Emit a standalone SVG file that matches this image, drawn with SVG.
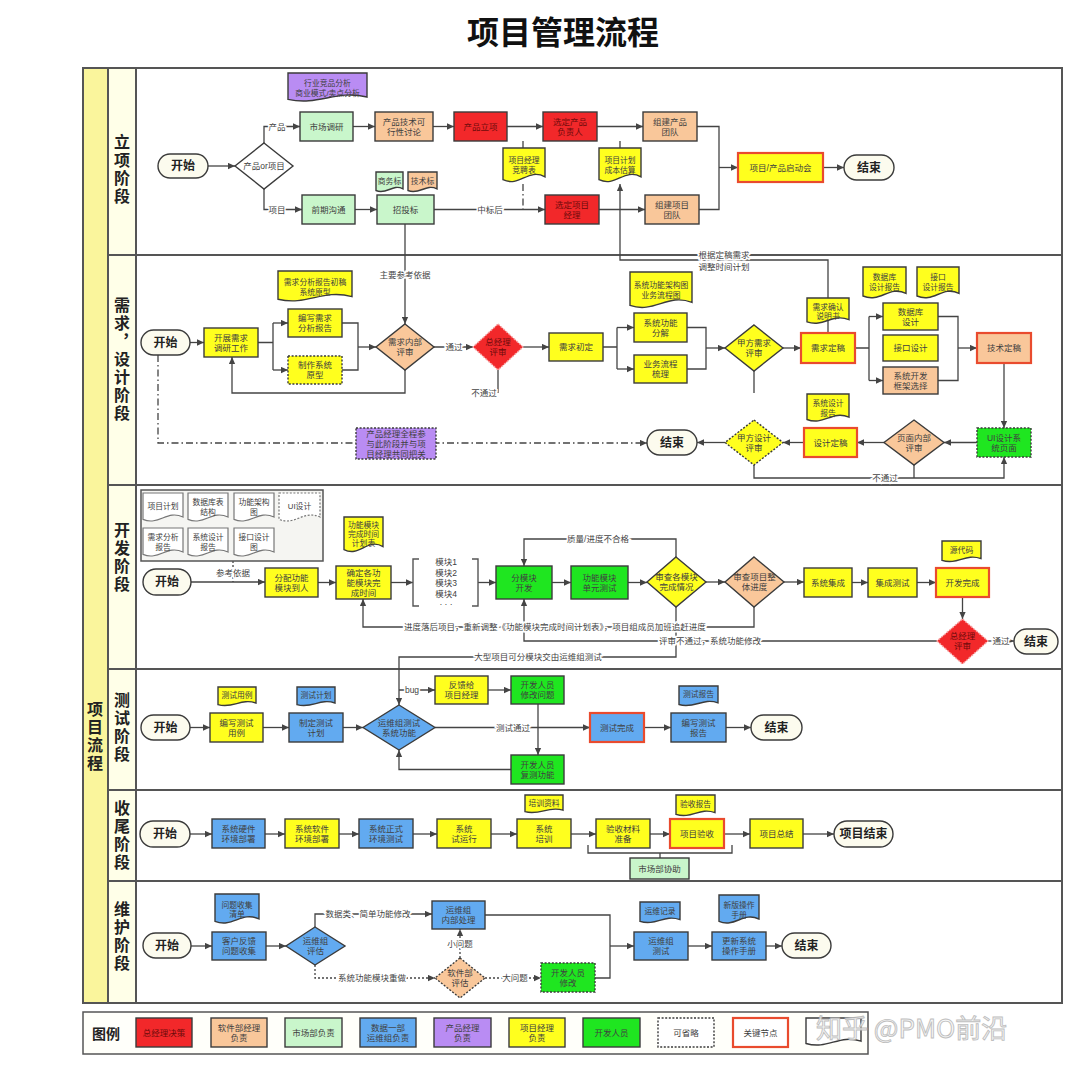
<svg xmlns="http://www.w3.org/2000/svg" width="1080" height="1069" viewBox="0 0 1080 1069">
<style>
.n{stroke:#3b3b3b;stroke-width:1.4}
.red{fill:#F2282A}.org{fill:#F9C79A}.lg{fill:#C9F6CB}.blu{fill:#62AAF0}.pur{fill:#B98CF3}.yel{fill:#FFFF1E}.grn{fill:#1FE620}.ter{fill:#FCFBEE}.wht{fill:#fff}
.key{stroke:#E94B2E;stroke-width:2.2}
.dt{stroke-dasharray:2 1.6}
.rd{stroke:#f7a0a0;stroke-dasharray:2 1.6}
.t{font-family:"Liberation Sans","Noto Sans CJK SC",sans-serif;font-size:8.5px;fill:#404040;text-anchor:middle;dominant-baseline:central}
.d{font-size:7.8px}
.tr{fill:#6e0b0b}
.tt{font-size:12px;font-weight:bold;fill:#222}
.lane{font-family:"Noto Sans CJK SC",sans-serif;font-size:16px;font-weight:bold;fill:#222;text-anchor:middle;writing-mode:vertical-rl;letter-spacing:2px}
.c{fill:none;stroke:#444;stroke-width:1.3}
.dd{stroke-dasharray:7 3 1.5 3}
.ds{stroke-dasharray:2 2}
.l{font-family:"Liberation Sans","Noto Sans CJK SC",sans-serif;font-size:8.5px;fill:#444;text-anchor:middle;dominant-baseline:central;stroke:#fff;stroke-width:3;paint-order:stroke}
.frame{fill:none;stroke:#555;stroke-width:2}
</style>
<defs>
<marker id="ah" viewBox="0 0 10 10" refX="10" refY="5" markerWidth="8" markerHeight="7" markerUnits="userSpaceOnUse" orient="auto"><path d="M0,0.5 L10,5 L0,9.5 z" fill="#444"/></marker>
</defs>
<rect width="1080" height="1069" fill="#fff"/>
<text x="563" y="30" font-family="Noto Sans CJK SC,sans-serif" font-size="32" font-weight="bold" fill="#111" text-anchor="middle" dominant-baseline="central">项目管理流程</text>

<g id="frame">
<rect x="83" y="68" width="979" height="935" fill="#fff" stroke="#555" stroke-width="2"/>
<rect x="83" y="68" width="25" height="935" fill="#FAF59C" stroke="#555" stroke-width="2"/>
<rect x="108" y="68" width="28" height="935" fill="#FFFFE8" stroke="#555" stroke-width="2"/>
<path class="frame" d="M108 255H1062M108 485H1062M108 669H1062M108 790H1062M108 881H1062"/>
<text class="lane" x="95" y="737">项目流程</text>
<text class="lane" x="122" y="170">立项阶段</text>
<text class="lane" x="122" y="360">需求，设计阶段</text>
<text class="lane" x="122" y="558">开发阶段</text>
<text class="lane" x="122" y="728">测试阶段</text>
<text class="lane" x="122" y="836">收尾阶段</text>
<text class="lane" x="122" y="937">维护阶段</text>
</g>

<g id="connectors" marker-end="url(#ah)">
<path class="c" d="M208 166H235"/>
<path class="c" d="M264 143V126.5H300"/>
<path class="c" d="M264 189V209.5H302"/>
<path class="c" d="M353 126.5H375"/>
<path class="c" d="M433 126.5H454"/>
<path class="c" d="M507 126.5H543"/>
<path class="c" d="M597 126.5H643"/>
<path class="c" d="M355 209.5H377"/>
<path class="c" d="M434 209.5H545"/>
<path class="c" d="M599 209.5H645"/>
<path class="c" d="M697 126.5H719V209.5H699" marker-end="none"/>
<path class="c" d="M719 167.5H738"/>
<path class="c" d="M823 167.5H844"/>
<path class="c dd" d="M523 141V148M523 184V209.5M620 141V148" marker-end="none"/>
<path class="c" d="M405 224V324"/>
<path class="c" d="M828 333V260H620V184"/>
<path class="c" d="M190 342.5H204"/>
<path class="c" d="M258 342.5H273M273 323V370" marker-end="none"/>
<path class="c" d="M273 323H288"/>
<path class="c" d="M273 370H288"/>
<path class="c" d="M342 323H358V370H342" marker-end="none"/>
<path class="c" d="M358 347H376"/>
<path class="c" d="M434 347H473"/>
<path class="c" d="M523 347H549"/>
<path class="c" d="M603 347H617M617 327.5V369" marker-end="none"/>
<path class="c" d="M617 327.5H634"/>
<path class="c" d="M617 369H634"/>
<path class="c" d="M687 327.5H706V369H687" marker-end="none"/>
<path class="c" d="M706 348H725"/>
<path class="c" d="M783 348H801"/>
<path class="c" d="M855 348H869M869 316.5V380.5" marker-end="none"/>
<path class="c" d="M869 316.5H883"/>
<path class="c" d="M869 380.5H883"/>
<path class="c" d="M938 316.5H958V380.5H938" marker-end="none"/>
<path class="c" d="M958 348H977"/>
<path class="c" d="M1004 363V428"/>
<path class="c" d="M977 442.5H944"/>
<path class="c" d="M884 442.5H857"/>
<path class="c" d="M804 442.5H783"/>
<path class="c" d="M725 442.5H697"/>
<path class="c" d="M754 465V478H1004V457"/>
<path class="c" d="M914 465V478" marker-end="none"/>
<path class="c" d="M405 370V393H232V357"/>
<path class="c" d="M498 370V393M754 371V393" marker-end="none"/>
<path class="c dd" d="M158 355V443H647"/>
<path class="c" d="M191 582H265"/>
<path class="c ds" d="M233 561V582" marker-end="none"/>
<path class="c" d="M318 582.5H336"/>
<path class="c" d="M391 582.5H413"/>
<path class="c" d="M478 582.5H496"/>
<path class="c" d="M552 582.5H571"/>
<path class="c" d="M628 582.5H647"/>
<path class="c" d="M706 582H725"/>
<path class="c" d="M784 582H804"/>
<path class="c" d="M852 582.5H868"/>
<path class="c" d="M917 582.5H936"/>
<path class="c" d="M962.5 597V619"/>
<path class="c" d="M988 641H1014"/>
<path class="c" d="M676 557V539H524V566"/>
<path class="c" d="M754 607V627H363V599"/>
<path class="c" d="M937 641H524V599"/>
<path class="c" d="M676 607V657H399V705"/>
<path class="c" d="M190 727.5H210"/>
<path class="c" d="M263 727.5H289"/>
<path class="c" d="M343 727.5H363"/>
<path class="c" d="M399 690H435"/>
<path class="c" d="M488 690H511"/>
<path class="c" d="M538 704V755"/>
<path class="c" d="M511 769.5H399V750"/>
<path class="c" d="M435 727.5H590"/>
<path class="c" d="M644 727.5H671"/>
<path class="c" d="M726 727.5H751"/>
<path class="c" d="M190 834H212"/>
<path class="c" d="M265 834H285"/>
<path class="c" d="M339 834H359"/>
<path class="c" d="M413 834H437"/>
<path class="c" d="M491 834H517"/>
<path class="c" d="M571 834H596"/>
<path class="c" d="M650 834H670"/>
<path class="c" d="M724 834H750"/>
<path class="c" d="M803 834H834"/>
<path class="c" d="M588 845V853H732V845M660 853V858" marker-end="none"/>
<path class="c" d="M191 946H212"/>
<path class="c" d="M266 946H286"/>
<path class="c" d="M315 927V914H432"/>
<path class="c ds" d="M315 965V978H435"/>
<path class="c ds" d="M460 958V929"/>
<path class="c ds" d="M485 978H541"/>
<path class="c" d="M485 915H610V978H595" marker-end="none"/>
<path class="c" d="M610 946H634"/>
<path class="c" d="M688 946H712"/>
<path class="c" d="M766 946H782"/>
</g>

<g id="labels">
<text class="l" x="277" y="126.5">产品</text>
<text class="l" x="277" y="209.5">项目</text>
<text class="l" x="490" y="209.5">中标后</text>
<text class="l" x="405" y="275">主要参考依据</text>
<text class="l" x="724" y="255">根据定稿需求</text>
<text class="l" x="724" y="267">调整时间计划</text>
<text class="l" x="454" y="347">通过</text>
<text class="l" x="484" y="393">不通过</text>
<text class="l" x="885" y="478">不通过</text>
<text class="l" x="233" y="573">参考依据</text>
<text class="l" x="598" y="539">质量/进度不合格</text>
<text class="l" x="555" y="627">进度落后项目，重新调整《功能模块完成时间计划表》，项目组成员加班追赶进度</text>
<text class="l" x="710" y="641">评审不通过，系统功能修改</text>
<text class="l" x="538" y="657">大型项目可分模块交由运维组测试</text>
<text class="l" x="1001" y="641">通过</text>
<text class="l" x="412" y="690">bug</text>
<text class="l" x="513" y="727.5">测试通过</text>
<text class="l" x="368" y="914">数据类、简单功能修改</text>
<text class="l" x="372" y="978">系统功能模块重做</text>
<text class="l" x="460" y="944">小问题</text>
<text class="l" x="515" y="978">大问题</text>
</g>

<g id="l1-start"><rect class="n ter" x="158" y="154" width="50" height="24" rx="12"/><text class="t tt" x="183" y="166">开始</text></g>
<g id="l1-choice"><polygon class="n wht" points="264,143 293,166 264,189 235,166"/><text class="t" x="264" y="166">产品or项目</text></g>
<g id="l1-doc-market"><path class="n pur" d="M288 73H367V97C335.4 89.5 319.6 106 288 99.4Z"/><text class="t d"><tspan x="327.5" y="83">行业竞品分析</tspan><tspan x="327.5" y="92.5">商业模式/卖点分析</tspan></text></g>
<g id="l1-market"><rect class="n lg" x="300" y="112" width="53" height="29"/><text class="t" x="326.5" y="126.5">市场调研</text></g>
<g id="l1-feas"><rect class="n org" x="375" y="112" width="58" height="29"/><text class="t"><tspan x="404" y="121.5">产品技术可</tspan><tspan x="404" y="131.5">行性讨论</tspan></text></g>
<g id="l1-approve"><rect class="n red" x="454" y="112" width="53" height="29"/><text class="t tr" x="480.5" y="126.5">产品立项</text></g>
<g id="l1-pm"><rect class="n red" x="543" y="112" width="54" height="29"/><text class="t tr"><tspan x="570" y="121.5">选定产品</tspan><tspan x="570" y="131.5">负责人</tspan></text></g>
<g id="l1-pteam"><rect class="n org" x="643" y="112" width="54" height="29"/><text class="t"><tspan x="670" y="121.5">组建产品</tspan><tspan x="670" y="131.5">团队</tspan></text></g>
<g id="l1-doc-pmc"><path class="n yel" d="M503 148H545V176.8C528.2 167.8 519.8 187.6 503 179.7Z"/><text class="t d"><tspan x="524" y="160">项目经理</tspan><tspan x="524" y="170">竞聘表</tspan></text></g>
<g id="l1-doc-plan"><path class="n yel" d="M599 148H641V176.8C624.2 167.8 615.8 187.6 599 179.7Z"/><text class="t d"><tspan x="620" y="160">项目计划</tspan><tspan x="620" y="170">成本估算</tspan></text></g>
<g id="l1-pre"><rect class="n lg" x="302" y="195" width="53" height="29"/><text class="t" x="328.5" y="209.5">前期沟通</text></g>
<g id="l1-doc-biz"><path class="n lg" d="M376 172H403V188.8C392.2 183.6 386.8 195.1 376 190.5Z"/><text class="t d" x="389.5" y="181">商务标</text></g>
<g id="l1-doc-tech"><path class="n org" d="M408 172H437V188.8C425.4 183.6 419.6 195.1 408 190.5Z"/><text class="t d" x="422.5" y="181">技术标</text></g>
<g id="l1-bid"><rect class="n lg" x="377" y="195" width="57" height="29"/><text class="t" x="405.5" y="209.5">招投标</text></g>
<g id="l1-prjm"><rect class="n red" x="545" y="195" width="54" height="29"/><text class="t tr"><tspan x="572" y="204.5">选定项目</tspan><tspan x="572" y="214.5">经理</tspan></text></g>
<g id="l1-jteam"><rect class="n org" x="645" y="195" width="54" height="29"/><text class="t"><tspan x="672" y="204.5">组建项目</tspan><tspan x="672" y="214.5">团队</tspan></text></g>
<g id="l1-kickoff"><rect class="yel key" x="738" y="153" width="85" height="29"/><text class="t" x="780.5" y="167.5">项目/产品启动会</text></g>
<g id="l1-end"><rect class="n ter" x="844" y="155" width="50" height="25" rx="12.5"/><text class="t tt" x="869" y="167.5">结束</text></g>

<g id="l2-start"><rect class="n ter" x="141" y="330" width="49" height="25" rx="12.5"/><text class="t tt" x="165.5" y="342.5">开始</text></g>
<g id="l2-research"><rect class="n yel" x="204" y="328" width="54" height="29"/><text class="t"><tspan x="231" y="337.5">开展需求</tspan><tspan x="231" y="347.5">调研工作</tspan></text></g>
<g id="l2-doc-req"><path class="n yel" d="M278 271H352V296.6C322.4 288.6 307.6 306.2 278 299.2Z"/><text class="t d"><tspan x="315" y="282">需求分析报告初稿</tspan><tspan x="315" y="292">系统原型</tspan></text></g>
<g id="l2-write"><rect class="n yel" x="288" y="309" width="54" height="28"/><text class="t"><tspan x="315" y="318">编写需求</tspan><tspan x="315" y="328">分析报告</tspan></text></g>
<g id="l2-proto"><rect class="n yel dt" x="288" y="356" width="54" height="28"/><text class="t"><tspan x="315" y="365">制作系统</tspan><tspan x="315" y="375">原型</tspan></text></g>
<g id="l2-inrev"><polygon class="n org" points="405,324 434,347 405,370 376,347"/><text class="t"><tspan x="405" y="342">需求内部</tspan><tspan x="405" y="352">评审</tspan></text></g>
<g id="l2-gmrev"><polygon class="red rd" stroke-width="1.4" points="498,324 523,347 498,370 473,347"/><text class="t tr"><tspan x="498" y="342">总经理</tspan><tspan x="498" y="352">评审</tspan></text></g>
<g id="l2-init"><rect class="n yel" x="549" y="333" width="54" height="28"/><text class="t" x="576" y="347">需求初定</text></g>
<g id="l2-doc-arch"><path class="n yel" d="M630 272H692V302.4C667.2 292.9 654.8 313.8 630 305.4Z"/><text class="t d"><tspan x="661" y="284.5">系统功能架构图</tspan><tspan x="661" y="294.5">业务流程图</tspan></text></g>
<g id="l2-decomp"><rect class="n yel" x="634" y="313" width="53" height="29"/><text class="t"><tspan x="660.5" y="322.5">系统功能</tspan><tspan x="660.5" y="332.5">分解</tspan></text></g>
<g id="l2-bizflow"><rect class="n yel" x="634" y="355" width="53" height="28"/><text class="t"><tspan x="660.5" y="364">业务流程</tspan><tspan x="660.5" y="374">梳理</tspan></text></g>
<g id="l2-clientrev"><polygon class="n yel" points="754,325 783,348 754,371 725,348"/><text class="t"><tspan x="754" y="343">甲方需求</tspan><tspan x="754" y="353">评审</tspan></text></g>
<g id="l2-doc-confirm"><path class="n yel" d="M807 298H849V319.6C832.2 312.9 823.8 327.7 807 321.8Z"/><text class="t d"><tspan x="828" y="306.5">需求确认</tspan><tspan x="828" y="316">说明书</tspan></text></g>
<g id="l2-final"><rect class="yel key" x="801" y="333" width="54" height="30"/><text class="t" x="828" y="348">需求定稿</text></g>
<g id="l2-doc-db"><path class="n yel" d="M863 267H906V293.4C888.8 285.2 880.2 303.3 863 296Z"/><text class="t d"><tspan x="884.5" y="277">数据库</tspan><tspan x="884.5" y="287">设计报告</tspan></text></g>
<g id="l2-doc-if"><path class="n yel" d="M917 267H959V293.4C942.2 285.2 933.8 303.3 917 296Z"/><text class="t d"><tspan x="938" y="277">接口</tspan><tspan x="938" y="287">设计报告</tspan></text></g>
<g id="l2-db"><rect class="n yel" x="883" y="303" width="55" height="27"/><text class="t"><tspan x="910.5" y="311.5">数据库</tspan><tspan x="910.5" y="321.5">设计</tspan></text></g>
<g id="l2-if"><rect class="n yel" x="883" y="335" width="55" height="26"/><text class="t" x="910.5" y="348">接口设计</text></g>
<g id="l2-frame"><rect class="n org" x="883" y="367" width="55" height="27"/><text class="t"><tspan x="910.5" y="375.5">系统开发</tspan><tspan x="910.5" y="385.5">框架选择</tspan></text></g>
<g id="l2-tech"><rect class="org key" x="977" y="333" width="54" height="30"/><text class="t" x="1004" y="348">技术定稿</text></g>
<g id="l2-ui"><rect class="n grn dt" x="977" y="428" width="54" height="29"/><text class="t"><tspan x="1004" y="437.5">UI设计系</tspan><tspan x="1004" y="447.5">统页面</tspan></text></g>
<g id="l2-pagerev"><polygon class="n org" points="914,420 944,442.5 914,465 884,442.5"/><text class="t"><tspan x="914" y="437.5">页面内部</tspan><tspan x="914" y="447.5">评审</tspan></text></g>
<g id="l2-doc-sd"><path class="n yel" d="M807 394H849V417.2C832.2 410 823.8 425.9 807 419.5Z"/><text class="t d"><tspan x="828" y="403">系统设计</tspan><tspan x="828" y="412.5">报告</tspan></text></g>
<g id="l2-design"><rect class="yel key" x="804" y="428" width="53" height="29"/><text class="t" x="830.5" y="442.5">设计定稿</text></g>
<g id="l2-clientdes"><polygon class="n yel dt" points="754,420 783,442.5 754,465 725,442.5"/><text class="t"><tspan x="754" y="437.5">甲方设计</tspan><tspan x="754" y="447.5">评审</tspan></text></g>
<g id="l2-end"><rect class="n ter" x="647" y="430" width="50" height="25" rx="12.5"/><text class="t tt" x="672" y="442.5">结束</text></g>
<g id="l2-pmnote"><rect class="n pur dt" x="356" y="428" width="80" height="31"/><text class="t"><tspan x="396" y="433.5">产品经理全程参</tspan><tspan x="396" y="443.5">与此阶段并与项</tspan><tspan x="396" y="453.5">目经理共同把关</tspan></text></g>

<g id="l3-refs">
<rect x="141" y="490" width="182" height="71" fill="#F5F5F2" stroke="#555" stroke-width="1.5"/>
<path class="wht" stroke="#777" stroke-width="1.2" d="M143 493H183V517C167 509.5 159 526 143 519.4Z"/><text class="t d" x="163" y="506">项目计划</text>
<path class="wht" stroke="#777" stroke-width="1.2" d="M188 493H228V517C212 509.5 204 526 188 519.4Z"/><text class="t d"><tspan x="208" y="502">数据库表</tspan><tspan x="208" y="511.5">结构</tspan></text>
<path class="wht" stroke="#777" stroke-width="1.2" d="M234 493H274V517C258 509.5 250 526 234 519.4Z"/><text class="t d"><tspan x="254" y="502">功能架构</tspan><tspan x="254" y="511.5">图</tspan></text>
<path class="wht dt" stroke="#777" stroke-width="1.2" d="M279 493H320V517C303.6 509.5 295.4 526 279 519.4Z"/><text class="t d" x="299.5" y="506">UI设计</text>
<path class="wht" stroke="#777" stroke-width="1.2" d="M143 528H183V552C167 544.5 159 561 143 554.4Z"/><text class="t d"><tspan x="163" y="537">需求分析</tspan><tspan x="163" y="546.5">报告</tspan></text>
<path class="wht" stroke="#777" stroke-width="1.2" d="M188 528H228V552C212 544.5 204 561 188 554.4Z"/><text class="t d"><tspan x="208" y="537">系统设计</tspan><tspan x="208" y="546.5">报告</tspan></text>
<path class="wht" stroke="#777" stroke-width="1.2" d="M234 528H274V552C258 544.5 250 561 234 554.4Z"/><text class="t d"><tspan x="254" y="537">接口设计</tspan><tspan x="254" y="546.5">图</tspan></text>
</g>
<g id="l3-start"><rect class="n ter" x="143" y="569" width="48" height="26" rx="13"/><text class="t tt" x="167" y="582">开始</text></g>
<g id="l3-assign"><rect class="n yel" x="265" y="568" width="53" height="29"/><text class="t"><tspan x="291.5" y="577.5">分配功能</tspan><tspan x="291.5" y="587.5">模块到人</tspan></text></g>
<g id="l3-doc-sched"><path class="n yel" d="M344 517H383V546.6C367.4 537.4 359.6 557.7 344 549.6Z"/><text class="t d"><tspan x="363.5" y="524.5">功能模块</tspan><tspan x="363.5" y="533.5">完成时间</tspan><tspan x="363.5" y="542.5">计划表</tspan></text></g>
<g id="l3-time"><rect class="n yel" x="336" y="566" width="55" height="33"/><text class="t"><tspan x="363.5" y="572.5">确定各功</tspan><tspan x="363.5" y="582.5">能模块完</tspan><tspan x="363.5" y="592.5">成时间</tspan></text></g>
<g id="l3-modules"><path d="M419 559H413V606H419M472 559H478V606H472" fill="none" stroke="#555" stroke-width="1.4"/><text class="t"><tspan x="446" y="562">模块1</tspan><tspan x="446" y="572.5">模块2</tspan><tspan x="446" y="583">模块3</tspan><tspan x="446" y="593.5">模块4</tspan><tspan x="446" y="604">·  ·  ·</tspan></text></g>
<g id="l3-dev"><rect class="n grn" x="496" y="566" width="56" height="33"/><text class="t"><tspan x="524" y="577.5">分模块</tspan><tspan x="524" y="587.5">开发</tspan></text></g>
<g id="l3-unit"><rect class="n grn" x="571" y="566" width="57" height="33"/><text class="t"><tspan x="599.5" y="577.5">功能模块</tspan><tspan x="599.5" y="587.5">单元测试</tspan></text></g>
<g id="l3-check"><polygon class="n yel" points="676,557 706,582 676,607 647,582"/><text class="t"><tspan x="676.5" y="577">审查各模块</tspan><tspan x="676.5" y="587">完成情况</tspan></text></g>
<g id="l3-progress"><polygon class="n org" points="754,557 784,582 754,607 725,582"/><text class="t"><tspan x="754.5" y="577">审查项目整</tspan><tspan x="754.5" y="587">体进度</tspan></text></g>
<g id="l3-integ"><rect class="n yel" x="804" y="568" width="48" height="29"/><text class="t" x="828" y="582.5">系统集成</text></g>
<g id="l3-itest"><rect class="n yel" x="868" y="568" width="49" height="29"/><text class="t" x="892.5" y="582.5">集成测试</text></g>
<g id="l3-doc-src"><path class="n yel" d="M942 541H981V558.6C965.4 553.1 957.6 565.2 942 560.4Z"/><text class="t d" x="961.5" y="550.5">源代码</text></g>
<g id="l3-done"><rect class="yel key" x="936" y="568" width="53" height="29"/><text class="t" x="962.5" y="582.5">开发完成</text></g>
<g id="l3-gmrev"><polygon class="red rd" stroke-width="1.4" points="962.5,619 988,641 962.5,664 937,641"/><text class="t tr"><tspan x="962.5" y="636">总经理</tspan><tspan x="962.5" y="646">评审</tspan></text></g>
<g id="l3-end"><rect class="n ter" x="1014" y="629" width="44" height="25" rx="12.5"/><text class="t tt" x="1036" y="641.5">结束</text></g>

<g id="l4-start"><rect class="n ter" x="141" y="715" width="49" height="25" rx="12.5"/><text class="t tt" x="165.5" y="727.5">开始</text></g>
<g id="l4-doc-case"><path class="n yel" d="M218 687H256V703C240.8 698 233.2 709 218 704.6Z"/><text class="t d" x="237" y="695">测试用例</text></g>
<g id="l4-case"><rect class="n yel" x="210" y="713" width="53" height="29"/><text class="t"><tspan x="236.5" y="722.5">编写测试</tspan><tspan x="236.5" y="732.5">用例</tspan></text></g>
<g id="l4-doc-plan"><path class="n blu" d="M297 687H335V703C319.8 698 312.2 709 297 704.6Z"/><text class="t d" x="316" y="695">测试计划</text></g>
<g id="l4-plan"><rect class="n blu" x="289" y="713" width="54" height="29"/><text class="t"><tspan x="316" y="722.5">制定测试</tspan><tspan x="316" y="732.5">计划</tspan></text></g>
<g id="l4-systest"><polygon class="n blu" points="399,705 435,727.5 399,750 363,727.5"/><text class="t"><tspan x="399" y="722.5">运维组测试</tspan><tspan x="399" y="732.5">系统功能</tspan></text></g>
<g id="l4-feedback"><rect class="n yel" x="435" y="676" width="53" height="28"/><text class="t"><tspan x="461.5" y="685">反馈给</tspan><tspan x="461.5" y="695">项目经理</tspan></text></g>
<g id="l4-fix"><rect class="n grn" x="511" y="676" width="53" height="28"/><text class="t"><tspan x="537.5" y="685">开发人员</tspan><tspan x="537.5" y="695">修改问题</tspan></text></g>
<g id="l4-retest"><rect class="n grn" x="511" y="755" width="53" height="29"/><text class="t"><tspan x="537.5" y="764.5">开发人员</tspan><tspan x="537.5" y="774.5">复测功能</tspan></text></g>
<g id="l4-done"><rect class="blu key" x="590" y="713" width="54" height="29"/><text class="t" x="617" y="727.5">测试完成</text></g>
<g id="l4-doc-report"><path class="n blu" d="M679 686H718V702.8C702.4 697.6 694.6 709.1 679 704.5Z"/><text class="t d" x="698.5" y="694.5">测试报告</text></g>
<g id="l4-report"><rect class="n blu" x="671" y="713" width="55" height="29"/><text class="t"><tspan x="698.5" y="722.5">编写测试</tspan><tspan x="698.5" y="732.5">报告</tspan></text></g>
<g id="l4-end"><rect class="n ter" x="751" y="715" width="51" height="25" rx="12.5"/><text class="t tt" x="776.5" y="727.5">结束</text></g>

<g id="l5-start"><rect class="n ter" x="140" y="821" width="50" height="26" rx="13"/><text class="t tt" x="165" y="834">开始</text></g>
<g id="l5-hw"><rect class="n blu" x="212" y="819" width="53" height="29"/><text class="t"><tspan x="238.5" y="828.5">系统硬件</tspan><tspan x="238.5" y="838.5">环境部署</tspan></text></g>
<g id="l5-sw"><rect class="n yel" x="285" y="819" width="54" height="29"/><text class="t"><tspan x="312" y="828.5">系统软件</tspan><tspan x="312" y="838.5">环境部署</tspan></text></g>
<g id="l5-prod"><rect class="n blu" x="359" y="819" width="54" height="29"/><text class="t"><tspan x="386" y="828.5">系统正式</tspan><tspan x="386" y="838.5">环境测试</tspan></text></g>
<g id="l5-trial"><rect class="n yel" x="437" y="819" width="54" height="29"/><text class="t"><tspan x="464" y="828.5">系统</tspan><tspan x="464" y="838.5">试运行</tspan></text></g>
<g id="l5-doc-train"><path class="n yel" d="M525 795H563V810.2C547.8 805.5 540.2 815.9 525 811.7Z"/><text class="t d" x="544" y="803">培训资料</text></g>
<g id="l5-train"><rect class="n yel" x="517" y="819" width="54" height="29"/><text class="t"><tspan x="544" y="828.5">系统</tspan><tspan x="544" y="838.5">培训</tspan></text></g>
<g id="l5-prep"><rect class="n yel" x="596" y="819" width="54" height="29"/><text class="t"><tspan x="623" y="828.5">验收材料</tspan><tspan x="623" y="838.5">准备</tspan></text></g>
<g id="l5-doc-acc"><path class="n yel" d="M676 795H715V812.6C699.4 807.1 691.6 819.2 676 814.4Z"/><text class="t d" x="695.5" y="804">验收报告</text></g>
<g id="l5-accept"><rect class="yel key" x="670" y="819" width="54" height="29"/><text class="t" x="697" y="833.5">项目验收</text></g>
<g id="l5-summary"><rect class="n yel" x="750" y="819" width="53" height="29"/><text class="t" x="776.5" y="833.5">项目总结</text></g>
<g id="l5-end"><rect class="n ter" x="834" y="821" width="59" height="26" rx="13"/><text class="t tt" x="863.5" y="834">项目结束</text></g>
<g id="l5-market"><rect class="n lg" x="630" y="858" width="59" height="21"/><text class="t" x="659.5" y="868.5">市场部协助</text></g>

<g id="l6-start"><rect class="n ter" x="143" y="933" width="48" height="25" rx="12.5"/><text class="t tt" x="167" y="945.5">开始</text></g>
<g id="l6-doc-list"><path class="n blu" d="M215 894H259V918.8C241.4 911 232.6 928.1 215 921.3Z"/><text class="t d"><tspan x="237" y="904.5">问题收集</tspan><tspan x="237" y="914">清单</tspan></text></g>
<g id="l6-collect"><rect class="n blu" x="212" y="932" width="54" height="28"/><text class="t"><tspan x="239" y="941">客户反馈</tspan><tspan x="239" y="951">问题收集</tspan></text></g>
<g id="l6-eval"><polygon class="n blu" points="315,927 345,946 315,965 286,946"/><text class="t"><tspan x="315.5" y="941">运维组</tspan><tspan x="315.5" y="951">评估</tspan></text></g>
<g id="l6-internal"><rect class="n blu" x="432" y="901" width="53" height="28"/><text class="t"><tspan x="458.5" y="910">运维组</tspan><tspan x="458.5" y="920">内部处理</tspan></text></g>
<g id="l6-sweval"><polygon class="n org dt" points="460,958 485,978 460,998 435,978"/><text class="t"><tspan x="460" y="973">软件部</tspan><tspan x="460" y="983">评估</tspan></text></g>
<g id="l6-devfix"><rect class="n grn dt" x="541" y="963" width="54" height="29"/><text class="t"><tspan x="568" y="972.5">开发人员</tspan><tspan x="568" y="982.5">修改</tspan></text></g>
<g id="l6-doc-log"><path class="n blu" d="M640 902H680V919.6C664 914.1 656 926.2 640 921.4Z"/><text class="t d" x="660" y="911.5">运维记录</text></g>
<g id="l6-test"><rect class="n blu" x="634" y="932" width="54" height="28"/><text class="t"><tspan x="661" y="941">运维组</tspan><tspan x="661" y="951">测试</tspan></text></g>
<g id="l6-doc-manual"><path class="n blu" d="M719 895H759V919C743 911.5 735 928 719 921.4Z"/><text class="t d"><tspan x="739" y="905">新版操作</tspan><tspan x="739" y="914.5">手册</tspan></text></g>
<g id="l6-update"><rect class="n blu" x="712" y="932" width="54" height="28"/><text class="t"><tspan x="739" y="941">更新系统</tspan><tspan x="739" y="951">操作手册</tspan></text></g>
<g id="l6-end"><rect class="n ter" x="782" y="933" width="49" height="25" rx="12.5"/><text class="t tt" x="806.5" y="945.5">结束</text></g>

<g id="legend">
<rect x="83" y="1012" width="785" height="42" fill="#FFFFFA" stroke="#555" stroke-width="1.5"/>
<text x="106" y="1033" font-family="Noto Sans CJK SC,sans-serif" font-size="14" font-weight="bold" fill="#222" text-anchor="middle" dominant-baseline="central">图例</text>
<rect class="n red" x="136" y="1018" width="56" height="29"/><text class="t tr" x="164" y="1032.5">总经理决策</text>
<rect class="n org" x="211" y="1018" width="56" height="29"/><text class="t"><tspan x="239" y="1027.5">软件部经理</tspan><tspan x="239" y="1037.5">负责</tspan></text>
<rect class="n lg" x="285" y="1018" width="57" height="29"/><text class="t" x="313.5" y="1032.5">市场部负责</text>
<rect class="n blu" x="360" y="1018" width="56" height="29"/><text class="t"><tspan x="388" y="1027.5">数据一部</tspan><tspan x="388" y="1037.5">运维组负责</tspan></text>
<rect class="n pur" x="434" y="1018" width="57" height="29"/><text class="t"><tspan x="462.5" y="1027.5">产品经理</tspan><tspan x="462.5" y="1037.5">负责</tspan></text>
<rect class="n yel" x="509" y="1018" width="56" height="29"/><text class="t"><tspan x="537" y="1027.5">项目经理</tspan><tspan x="537" y="1037.5">负责</tspan></text>
<rect class="n grn" x="583" y="1018" width="57" height="29"/><text class="t" x="611.5" y="1032.5">开发人员</text>
<rect class="n wht dt" x="658" y="1018" width="56" height="29"/><text class="t" x="686" y="1032.5">可省略</text>
<rect class="wht key" x="733" y="1018" width="55" height="29"/><text class="t" x="760.5" y="1032.5">关键节点</text>
<path class="n wht" d="M806 1018H861V1041.2C839 1034 828 1049.9 806 1043.5Z"/>
</g>
<text x="816" y="1026" font-family="Noto Sans CJK SC,sans-serif" font-size="26" fill="#f6f6f6" stroke="#b8b8b8" stroke-width="0.9" dominant-baseline="central" opacity="0.9">知乎 @PMO前沿</text>
</svg>
